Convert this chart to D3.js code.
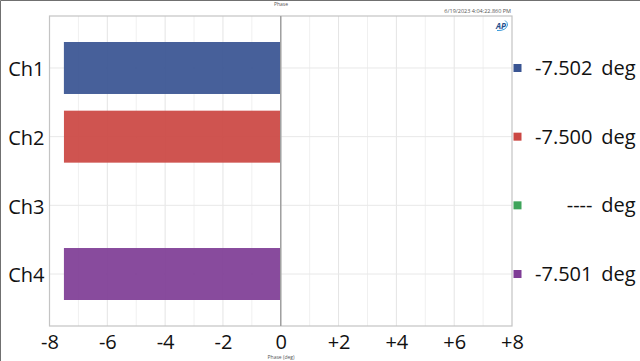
<!DOCTYPE html>
<html>
<head>
<meta charset="utf-8">
<script src="https://cdn.jsdelivr.net/npm/d3@7"></script>
<style>
  html, body { margin: 0; padding: 0; background: #fff; }
  svg { display: block; }
  text { font-family: "Open Sans", "Noto Sans", sans-serif; }
</style>
</head>
<body>
<div id="drawing"></div>
<script>
const channels = ["Ch1", "Ch2", "Ch3", "Ch4"];
const phase = [-7.502, -7.5, null, -7.501];
const readouts = ["-7.502", "-7.500", "----", "-7.501"];
const colors = ["#395492", "#cb4743", "#3fa45b", "#7f3d96"];
const majorTicks = [-8, -6, -4, -2, 0, 2, 4, 6, 8];
const minorTicks = [-7, -5, -3, -1, 1, 3, 5, 7];

const width = 640;
const height = 361;
const margin = {top: 16, right: 128, bottom: 35, left: 49.5};
const innerW = width - margin.left - margin.right;
const innerH = height - margin.top - margin.bottom;

const drawing = d3.select("#drawing").append("svg")
  .attr("width", width)
  .attr("height", height);

// window edge, top and left only
drawing.append("path")
  .attr("d", `M0.5,${height} V0.5 H${width}`)
  .attr("fill", "none")
  .attr("stroke", "#707070");

const xScale = d3.scaleLinear().domain([-8, 8]).range([0, innerW]);
const yScale = d3.scaleBand().domain(channels).range([26, 284]).paddingInner(0.243);
const yMid = (c) => yScale(c) + yScale.bandwidth() / 2;

const area = drawing.append("g")
  .attr("transform", `translate(${margin.left}, ${margin.top})`);

// grid
area.selectAll(".minor").data(minorTicks).enter().append("line")
  .attr("x1", (d) => xScale(d)).attr("x2", (d) => xScale(d))
  .attr("y1", 0).attr("y2", innerH)
  .attr("stroke", "#f0f0f0");
area.selectAll(".major").data(majorTicks.slice(1, -1)).enter().append("line")
  .attr("x1", (d) => xScale(d)).attr("x2", (d) => xScale(d))
  .attr("y1", 0).attr("y2", innerH)
  .attr("stroke", "#e4e4e4");
area.selectAll(".hgrid").data(channels).enter().append("line")
  .attr("x1", 0).attr("x2", innerW)
  .attr("y1", yMid).attr("y2", yMid)
  .attr("stroke", "#e8e8e8");

// bars, slightly see-through so the grid shows
const rows = channels.map((c, i) => ({c: c, v: phase[i], color: colors[i], txt: readouts[i]}));
area.selectAll(".bar").data(rows.filter((d) => d.v !== null)).enter().append("rect")
  .attr("class", "bar")
  .attr("x", (d) => xScale(d.v))
  .attr("y", (d) => yScale(d.c))
  .attr("width", (d) => xScale(0) - xScale(d.v))
  .attr("height", yScale.bandwidth())
  .attr("fill", (d) => d.color)
  .attr("fill-opacity", 0.93);

// plot frame and zero line
area.append("rect")
  .attr("width", innerW).attr("height", innerH)
  .attr("fill", "none").attr("stroke", "#c4c4c4").attr("stroke-width", 1.2);
area.append("line")
  .attr("x1", xScale(0)).attr("x2", xScale(0))
  .attr("y1", 0).attr("y2", innerH)
  .attr("stroke", "#a0a0a0").attr("stroke-width", 1.5);

// axes
const xAxis = area.append("g")
  .attr("transform", `translate(0,${innerH})`)
  .call(d3.axisBottom(xScale).tickValues(majorTicks).tickSize(0).tickPadding(9)
    .tickFormat((d) => d > 0 ? "+" + d : String(d)));
xAxis.select(".domain").remove();
xAxis.selectAll("text").attr("font-size", 20).attr("fill", "#111");

const yAxis = area.append("g")
  .call(d3.axisLeft(yScale).tickSize(0).tickPadding(5));
yAxis.select(".domain").remove();
yAxis.selectAll("text").attr("font-size", 20).attr("fill", "#111").attr("dy", "0.42em");

// legend readouts on the right
const legend = area.selectAll(".readout").data(rows).enter().append("g")
  .attr("transform", (d) => `translate(0,${yMid(d.c)})`);
legend.append("rect")
  .attr("x", innerW + 1.5).attr("y", -4)
  .attr("width", 8).attr("height", 8)
  .attr("fill", (d) => d.color);
legend.append("text")
  .attr("x", width - margin.left - 47.5)
  .attr("dy", "0.35em")
  .attr("text-anchor", "end")
  .attr("font-size", 20)
  .attr("fill", "#111")
  .text((d) => d.txt);
legend.append("text")
  .attr("x", width - margin.left - 4.5)
  .attr("dy", "0.35em")
  .attr("text-anchor", "end")
  .attr("font-size", 20)
  .attr("fill", "#111")
  .text("deg");

// small captions
drawing.append("text").attr("x", 281).attr("y", 6).attr("text-anchor", "middle")
  .attr("font-size", 5).attr("fill", "#555").text("Phase");
drawing.append("text").attr("x", 511).attr("y", 13).attr("text-anchor", "end")
  .attr("font-size", 5.5).attr("fill", "#555").text("6/19/2023 4:04:22.860 PM");
drawing.append("text").attr("x", 281).attr("y", 359).attr("text-anchor", "middle")
  .attr("font-size", 5).attr("fill", "#555").text("Phase (deg)");

// AP logo corner
drawing.append("text").attr("x", 496).attr("y", 29)
  .attr("font-size", 8).attr("font-weight", "bold").attr("font-style", "italic")
  .attr("fill", "#1f4e8c").text("AP");
drawing.append("path")
  .attr("d", "M497,30.5 Q506,31 507.5,25 Q507.5,22 505,20.5")
  .attr("fill", "none").attr("stroke", "#3a9ad9").attr("stroke-width", 1);
</script>
</body>
</html>
